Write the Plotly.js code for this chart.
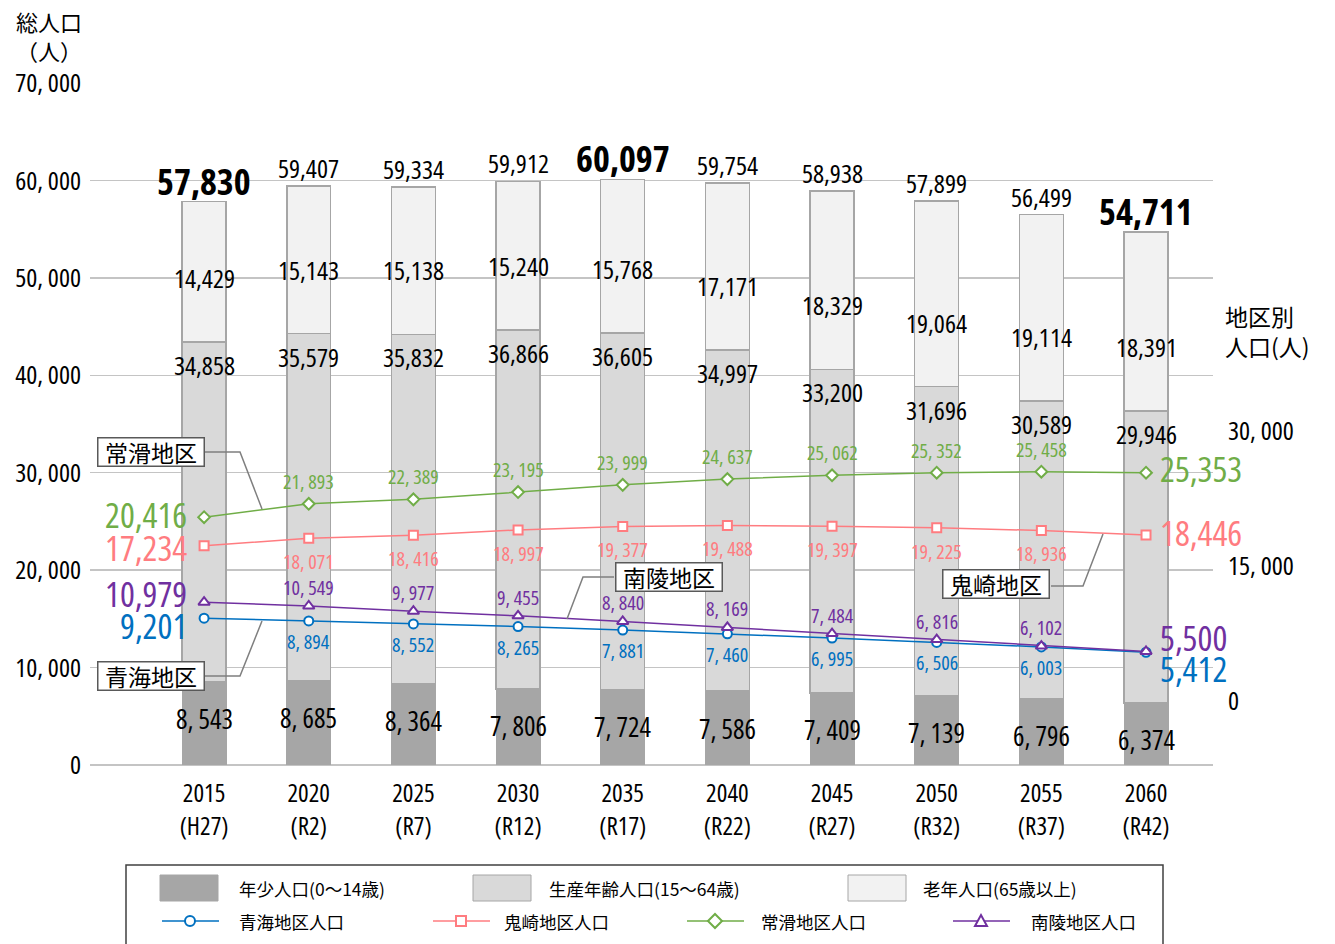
<!DOCTYPE html>
<html>
<head>
<meta charset="utf-8">
<script src="https://cdn.plot.ly/plotly-3.0.1.min.js"></script>
<style>
html,body{margin:0;padding:0;background:#fff;}
#chart{width:1335px;height:944px;}
text{font-stretch:75%;}
</style>
</head>
<body>
<div id="chart"></div>
<script>
// ---------------- data ----------------
const years = ['2015','2020','2025','2030','2035','2040','2045','2050','2055','2060'];
const eras  = ['H27','R2','R7','R12','R17','R22','R27','R32','R37','R42'];
const young   = [8543, 8685, 8364, 7806, 7724, 7586, 7409, 7139, 6796, 6374];
const working = [34858, 35579, 35832, 36866, 36605, 34997, 33200, 31696, 30589, 29946];
const elderly = [14429, 15143, 15138, 15240, 15768, 17171, 18329, 19064, 19114, 18391];
const totals  = [57830, 59407, 59334, 59912, 60097, 59754, 58938, 57899, 56499, 54711];
const aomi      = [9201, 8894, 8552, 8265, 7881, 7460, 6995, 6506, 6003, 5412];      // 青海
const onizaki   = [17234, 18071, 18416, 18997, 19377, 19488, 19397, 19225, 18936, 18446]; // 鬼崎
const tokoname  = [20416, 21893, 22389, 23195, 23999, 24637, 25062, 25352, 25458, 25353]; // 常滑
const nanryo    = [10979, 10549, 9977, 9455, 8840, 8169, 7484, 6816, 6102, 5500];   // 南陵
const leftTicks  = [0, 10000, 20000, 30000, 40000, 50000, 60000, 70000];
const rightTicks = [0, 15000, 30000];

// ---------------- style ----------------
const NUM = '"Open Sans", sans-serif';
const JP  = '"Noto Sans CJK JP", "Noto Sans", sans-serif';
const cats = years.map((y, i) => y + '<br>(' + eras[i] + ')');
const fmt = (v, spaced) => v.toLocaleString('en-US').replace(',', spaced ? ', ' : ',');

const C_YOUNG = '#a6a6a6', C_WORK = '#d9d9d9', C_OLD = '#f2f2f2', C_EDGE = '#a6a6a6';

const series = [
  {name:'青海地区人口', data:aomi,     color:'#0070c0', symbol:'circle',       below:true,  sh:-5, s0:-7,  s1:-16},
  {name:'鬼崎地区人口', data:onizaki,  color:'#ff7c80', symbol:'square',       below:true,  sh:-8, s0:-2,  s1:2},
  {name:'常滑地区人口', data:tokoname, color:'#70ad47', symbol:'diamond',      below:false, sh:7,  s0:3,   s1:4},
  {name:'南陵地区人口', data:nanryo,   color:'#7030a0', symbol:'triangle-up',  below:false, sh:3,  s0:9,   s1:14}
];

const L = 90, R = 1213, T = 83, B = 765;
const PX = p => (p - L) / (R - L);
const PY = p => (B - p) / (B - T);

// ---------------- traces ----------------
const barCommon = {type:'bar', x:cats, width:0.42, hoverinfo:'skip', showlegend:false};
const traces = [
  Object.assign({}, barCommon, {y:young,   marker:{color:C_YOUNG, line:{color:C_EDGE, width:1}}}),
  Object.assign({}, barCommon, {y:working, marker:{color:C_WORK,  line:{color:C_EDGE, width:1.5}}}),
  Object.assign({}, barCommon, {y:elderly, marker:{color:C_OLD,   line:{color:C_EDGE, width:1.5}}})
];
series.forEach(s => {
  traces.push({
    type:'scatter', mode:'lines+markers', x:cats, y:s.data, yaxis:'y2', showlegend:false,
    line:{color:s.color, width:1.5},
    marker:{symbol:s.symbol, size:s.symbol==='triangle-up'?10:9, color:'#ffffff', line:{color:s.color, width:2}}
  });
});

// ---------------- annotations ----------------
const ann = [];
const maxIdx = totals.indexOf(Math.max(...totals));
cats.forEach((c, i) => {
  const bold = (i === 0 || i === cats.length - 1 || i === maxIdx);
  ann.push({x:c, y:totals[i], xref:'x', yref:'y', yanchor:'bottom', showarrow:false, yshift: bold ? -6 : -2,
    text: bold ? '<b>' + fmt(totals[i]) + '</b>' : fmt(totals[i]),
    font:{family:NUM, size: bold ? 36 : 26, color:'#000'}});
  ann.push({x:c, y:young[i], xref:'x', yref:'y', showarrow:false, yshift:-37,
    text:fmt(young[i], true), font:{family:NUM, size:27, color:'#000'}});
  ann.push({x:c, y:young[i] + working[i], xref:'x', yref:'y', showarrow:false, yshift:-23,
    text:fmt(working[i]), font:{family:NUM, size:26, color:'#000'}});
  ann.push({x:c, y:young[i] + working[i], xref:'x', yref:'y', showarrow:false, yshift:64,
    text:fmt(elderly[i]), font:{family:NUM, size:26, color:'#000'}});
});
series.forEach(s => {
  const n = s.data.length;
  s.data.forEach((v, i) => {
    if (i === 0 || i === n - 1) return;
    ann.push({x:cats[i], y:v, xref:'x', yref:'y2', showarrow:false,
      yanchor: s.below ? 'top' : 'bottom', yshift: s.sh,
      text:fmt(v, true), font:{family:NUM, size:20, color:s.color}});
  });
  ann.push({x:cats[0], y:s.data[0], xref:'x', yref:'y2', showarrow:false, xanchor:'right', xshift:-15, yshift:s.s0,
    text:fmt(s.data[0]), font:{family:NUM, size:35, color:s.color}});
  ann.push({x:cats[n-1], y:s.data[n-1], xref:'x', yref:'y2', showarrow:false, xanchor:'left', xshift:12, yshift:s.s1,
    text:fmt(s.data[n-1]), font:{family:NUM, size:35, color:s.color}});
});

ann.push({xref:'paper', yref:'paper', x:PX(84), y:PY(3), xanchor:'right', yanchor:'top', align:'right', showarrow:false,
  text:'総人口<br>（人）', font:{family:JP, size:22, color:'#000'}});
ann.push({xref:'paper', yref:'paper', x:PX(1223), y:PY(297), xanchor:'left', yanchor:'top', align:'left', showarrow:false,
  text:'地区別<br>人口(人)', font:{family:JP, size:23, color:'#000'}});

const callouts = [
  {t:'常滑地区', cx:151, cy:452, path:[[205,452],[240,452],[262,509]]},
  {t:'青海地区', cx:151, cy:676, path:[[204,676],[240,676],[262,621]]},
  {t:'南陵地区', cx:669, cy:577, path:[[614,577],[583,577],[567,619]]},
  {t:'鬼崎地区', cx:996, cy:584, path:[[1051,586],[1083,586],[1103,534]]}
];
const shapes = [];
callouts.forEach(c => {
  ann.push({xref:'paper', yref:'paper', x:PX(c.cx), y:PY(c.cy), xanchor:'center', yanchor:'middle', showarrow:false, text:c.t,
    font:{family:JP, size:23, color:'#000'}, bgcolor:'#ffffff', bordercolor:'#595959', borderwidth:1.5,
    width:103, height:25, borderpad:1});
  const p = c.path.map((q, k) => (k ? 'L' : 'M') + PX(q[0]) + ',' + PY(q[1])).join(' ');
  shapes.push({type:'path', xref:'paper', yref:'paper', path:p, line:{color:'#7f7f7f', width:1.5}, layer:'above'});
});

shapes.push({type:'rect', xref:'paper', yref:'paper', x0:PX(126), x1:PX(1163), y0:PY(865), y1:PY(960),
  line:{color:'#404040', width:1.5}, fillcolor:'rgba(0,0,0,0)'});
const legRow1 = [
  {sx:160, tx:237, fill:C_YOUNG, t:'年少人口(0～14歳)'},
  {sx:473, tx:547, fill:C_WORK,  t:'生産年齢人口(15～64歳)'},
  {sx:848, tx:921, fill:C_OLD,   t:'老年人口(65歳以上)'}
];
legRow1.forEach(r => {
  shapes.push({type:'rect', xref:'paper', yref:'paper', x0:PX(r.sx), x1:PX(r.sx + 58), y0:PY(875), y1:PY(901),
    fillcolor:r.fill, line:{color:'#a6a6a6', width:1}});
  ann.push({xref:'paper', yref:'paper', x:PX(r.tx), y:PY(888), xanchor:'left', yanchor:'middle', showarrow:false, text:r.t,
    font:{family:JP, size:17.5, color:'#000'}});
});
const legRow2 = [{lx:162, tx:237}, {lx:433, tx:502}, {lx:687, tx:759}, {lx:953, tx:1029}];
const Y2 = 921;
series.forEach((s, k) => {
  const r = legRow2[k], cx = r.lx + 28;
  shapes.push({type:'line', xref:'paper', yref:'paper', x0:PX(r.lx), x1:PX(r.lx + 57), y0:PY(Y2), y1:PY(Y2),
    line:{color:s.color, width:1.5}});
  const m = {xref:'paper', yref:'paper', fillcolor:'#ffffff', line:{color:s.color, width:2}};
  if (s.symbol === 'circle') {
    shapes.push(Object.assign({type:'circle', x0:PX(cx-5), x1:PX(cx+5), y0:PY(Y2-5), y1:PY(Y2+5)}, m));
  } else if (s.symbol === 'square') {
    shapes.push(Object.assign({type:'rect', x0:PX(cx-5), x1:PX(cx+5), y0:PY(Y2-5), y1:PY(Y2+5)}, m));
  } else if (s.symbol === 'diamond') {
    shapes.push(Object.assign({type:'path', path:'M'+PX(cx-7)+','+PY(Y2)+' L'+PX(cx)+','+PY(Y2-7)+' L'+PX(cx+7)+','+PY(Y2)+' L'+PX(cx)+','+PY(Y2+7)+' Z'}, m));
  } else {
    shapes.push(Object.assign({type:'path', path:'M'+PX(cx-6)+','+PY(Y2+5)+' L'+PX(cx)+','+PY(Y2-6)+' L'+PX(cx+6)+','+PY(Y2+5)+' Z'}, m));
  }
  ann.push({xref:'paper', yref:'paper', x:PX(r.tx), y:PY(Y2), xanchor:'left', yanchor:'middle', showarrow:false, text:s.name,
    font:{family:JP, size:17.5, color:'#000'}});
});

const layout = {
  width:1335, height:944,
  margin:{l:L, r:1335 - R, t:T, b:944 - B, pad:0},
  paper_bgcolor:'#ffffff', plot_bgcolor:'#ffffff',
  barmode:'stack', showlegend:false,
  xaxis:{type:'category', range:[-1.09, 9.64], showgrid:false, zeroline:false, showline:false, ticks:'',
    tickfont:{family:NUM, size:25, color:'#000'}, ticklabelstandoff:11, fixedrange:true},
  yaxis:{range:[0, 70000], tickvals:leftTicks, ticktext:leftTicks.map(v => fmt(v, true)),
    showgrid:true, gridcolor:'#c4c4c4', gridwidth:1.5, zeroline:true, zerolinecolor:'#c4c4c4', zerolinewidth:1.5,
    showline:false, ticks:'', tickfont:{family:NUM, size:26, color:'#000'}, ticklabelstandoff:8},
  yaxis2:{overlaying:'y', side:'right', range:[-7106, 68621], tickvals:rightTicks,
    ticktext:rightTicks.map(v => fmt(v, true)), showgrid:false, zeroline:false, showline:false, ticks:'',
    tickfont:{family:NUM, size:26, color:'#000'}, ticklabelstandoff:14},
  annotations:ann, shapes:shapes
};

Plotly.newPlot('chart', traces, layout, {staticPlot:true, displayModeBar:false});
</script>
</body>
</html>
